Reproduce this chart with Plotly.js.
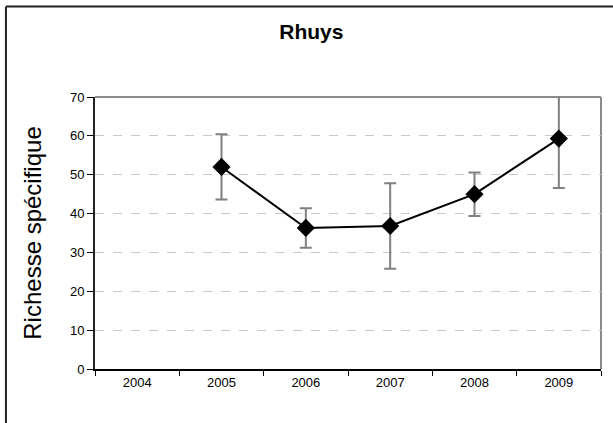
<!DOCTYPE html>
<html>
<head>
<meta charset="utf-8">
<script src="https://cdn.plot.ly/plotly-3.0.1.min.js"></script>
<style>
  html, body { margin: 0; padding: 0; background: #fff; }
  #chart { width: 613px; height: 423px; }
</style>
</head>
<body>
<div id="chart"></div>
<script>
const years = ['2004', '2005', '2006', '2007', '2008', '2009'];
const richesse = [null, 52, 36.3, 36.8, 45, 59.3];
const erreur = [null, 8.4, 5.1, 11, 5.6, 12.7];
const yTicks = [0, 10, 20, 30, 40, 50, 60, 70];

const trace = {
  x: years,
  y: richesse,
  type: 'scatter',
  mode: 'lines+markers',
  cliponaxis: false,
  connectgaps: false,
  line: { color: '#000000', width: 2 },
  marker: { symbol: 'diamond', size: 14, color: '#000000' },
  error_y: {
    type: 'data',
    array: erreur,
    visible: true,
    color: '#808080',
    thickness: 2,
    width: 6
  },
  hoverinfo: 'skip'
};

const layout = {
  width: 613,
  height: 423,
  margin: { l: 95, r: 12, t: 97, b: 54 },
  paper_bgcolor: '#ffffff',
  plot_bgcolor: '#ffffff',
  font: { family: '"Liberation Sans", Arial, sans-serif', color: '#000000', size: 13 },
  showlegend: false,
  title: {
    text: '<b>Rhuys</b>',
    font: { size: 21, family: '"Liberation Sans", Arial, sans-serif', color: '#000' },
    x: 0.508, xanchor: 'center',
    y: 0.925, yanchor: 'middle', yref: 'container'
  },
  xaxis: {
    type: 'category',
    categoryorder: 'array',
    categoryarray: years,
    range: [-0.5, 5.5],
    tickson: 'boundaries',
    ticks: 'outside',
    ticklen: 5,
    tickwidth: 1,
    tickcolor: '#000',
    showline: true,
    linecolor: '#000',
    linewidth: 2,
    showgrid: false,
    zeroline: false,
    tickfont: { size: 13 },
    fixedrange: true
  },
  yaxis: {
    range: [0, 70],
    tickvals: yTicks,
    ticktext: yTicks.map(String),
    ticks: 'outside',
    ticklen: 6,
    tickwidth: 1,
    tickcolor: '#000',
    showline: true,
    linecolor: '#222',
    linewidth: 2,
    showgrid: true,
    gridcolor: '#c8c8c8',
    griddash: 'dash',
    gridwidth: 1,
    zeroline: false,
    tickfont: { size: 13 },
    title: {
      text: 'Richesse spécifique',
      font: { size: 24 },
      standoff: 22
    },
    fixedrange: true
  },
  shapes: [
    { type: 'line', xref: 'paper', yref: 'paper', x0: 0, x1: 1, y0: 1, y1: 1,
      line: { color: '#8c8c8c', width: 2 }, layer: 'below' },
    { type: 'line', xref: 'paper', yref: 'paper', x0: 1, x1: 1, y0: 0, y1: 1,
      line: { color: '#8c8c8c', width: 2 }, layer: 'below' },
    { type: 'line', xref: 'paper', yref: 'paper', x0: -0.176, x1: 1.1, y0: 1.333, y1: 1.333,
      line: { color: '#222', width: 2 } },
    { type: 'line', xref: 'paper', yref: 'paper', x0: -0.176, x1: -0.176, y0: -0.3, y1: 1.333,
      line: { color: '#222', width: 2 } }
  ]
};

Plotly.newPlot('chart', [trace], layout, { displayModeBar: false, staticPlot: true });
</script>
</body>
</html>
